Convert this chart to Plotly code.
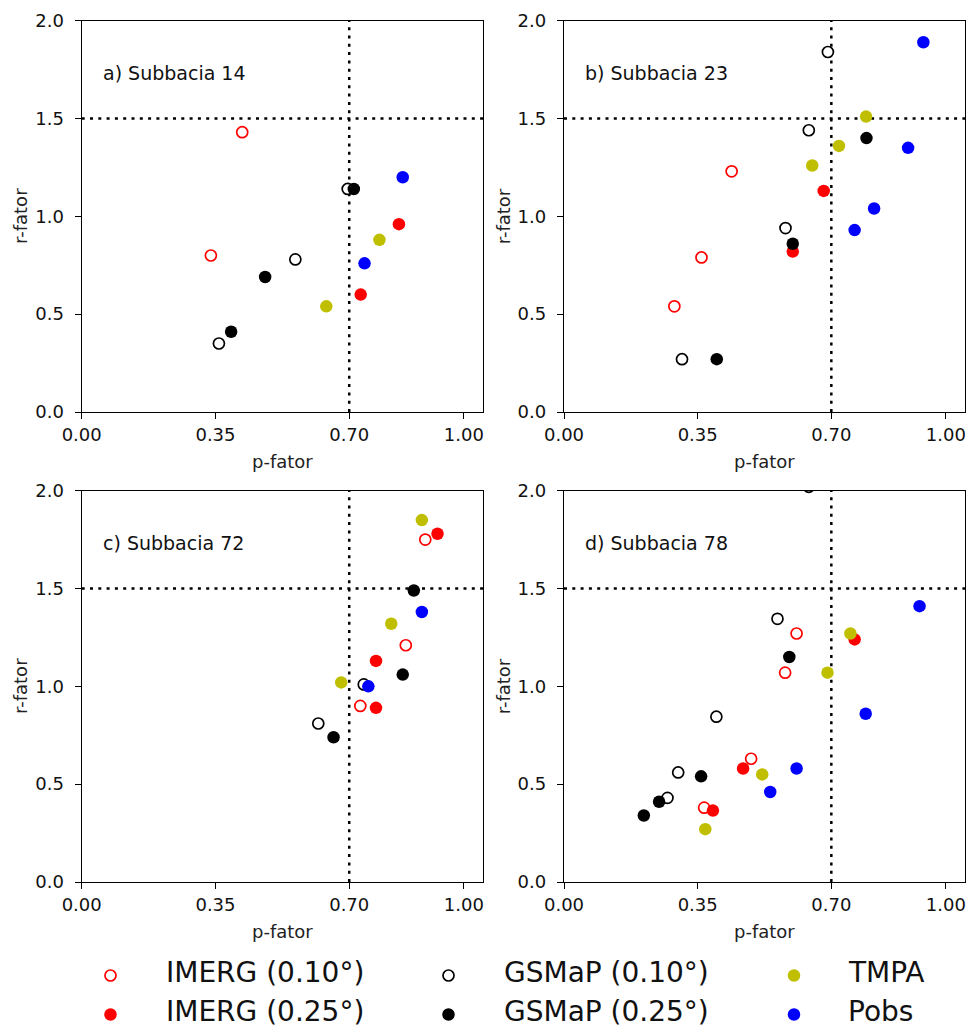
import plotly.graph_objects as go

W, H = 969, 1028
FONT = "DejaVu Sans"

# Axis ticks and the calibration thresholds
p_ticks = [0.0, 0.35, 0.70, 1.0]
p_tick_labels = ["0.00", "0.35", "0.70", "1.00"]
r_ticks = [0.0, 0.5, 1.0, 1.5, 2.0]
r_tick_labels = ["0.0", "0.5", "1.0", "1.5", "2.0"]
p_limit = 0.70
r_limit = 1.5

basins = ["a) Subbacia 14", "b) Subbacia 23", "c) Subbacia 72", "d) Subbacia 78"]

series_names = ["IMERG (0.10°)", "IMERG (0.25°)", "GSMaP (0.10°)",
                "GSMaP (0.25°)", "TMPA", "Pobs"]

# p-factor / r-factor per series, one inner list per sub-basin (14, 23, 72, 78)
imerg010_p = [[0.42, 0.338], [0.439, 0.36, 0.289], [0.899, 0.848, 0.729],
              [0.609, 0.579, 0.49, 0.367]]
imerg010_r = [[1.43, 0.80], [1.23, 0.79, 0.54], [1.75, 1.21, 0.90],
              [1.27, 1.07, 0.63, 0.38]]

imerg025_p = [[0.83, 0.73], [0.68, 0.599], [0.931, 0.77, 0.77],
              [0.761, 0.469, 0.39]]
imerg025_r = [[0.96, 0.60], [1.13, 0.82], [1.78, 1.13, 0.89],
              [1.24, 0.58, 0.365]]

gsmap010_p = [[0.696, 0.559, 0.359], [0.691, 0.641, 0.58, 0.309], [0.738, 0.619],
              [0.641, 0.559, 0.399, 0.299, 0.271]]
gsmap010_r = [[1.14, 0.78, 0.35], [1.84, 1.44, 0.94, 0.27], [1.01, 0.81],
              [2.02, 1.345, 0.845, 0.56, 0.43]]

gsmap025_p = [[0.712, 0.48, 0.391], [0.792, 0.599, 0.40], [0.869, 0.84, 0.659],
              [0.59, 0.359, 0.249, 0.209]]
gsmap025_r = [[1.14, 0.69, 0.41], [1.40, 0.86, 0.27], [1.49, 1.06, 0.74],
              [1.15, 0.54, 0.41, 0.34]]

tmpa_p = [[0.779, 0.64], [0.791, 0.72, 0.65], [0.89, 0.81, 0.679],
          [0.75, 0.69, 0.519, 0.37]]
tmpa_r = [[0.88, 0.54], [1.51, 1.36, 1.26], [1.85, 1.32, 1.02],
          [1.27, 1.07, 0.55, 0.27]]

pobs_p = [[0.84, 0.74], [0.941, 0.901, 0.812, 0.761], [0.89, 0.75],
          [0.931, 0.79, 0.609, 0.54]]
pobs_r = [[1.20, 0.76], [1.89, 1.35, 1.04, 0.93], [1.38, 1.00],
          [1.41, 0.86, 0.58, 0.46]]

series_p = [imerg010_p, imerg025_p, gsmap010_p, gsmap025_p, tmpa_p, pobs_p]
series_r = [imerg010_r, imerg025_r, gsmap010_r, gsmap025_r, tmpa_r, pobs_r]
series_color = ["#ff0000", "#ff0000", "#000000", "#000000", "#bfbf00", "#0000ff"]
series_open = [True, False, True, False, False, False]


def marker_style(color, hollow):
    if hollow:
        return dict(size=11, color="white", symbol="circle",
                    line=dict(color=color, width=1.7))
    return dict(size=12.5, color=color, symbol="circle", line=dict(width=0))


# panel placement in pixels: (left, right, top, bottom)
panels_px = [(81.7, 483.0, 20.7, 412.0), (564.0, 965.0, 20.7, 412.0),
             (81.7, 483.0, 490.7, 882.0), (564.0, 965.0, 490.7, 882.0)]

fig = go.Figure()
layout = dict(template="none", width=W, height=H,
              margin=dict(l=0, r=0, t=0, b=0, pad=0, autoexpand=False),
              paper_bgcolor="white", plot_bgcolor="white", showlegend=False,
              font=dict(family=FONT, color="#111111"))
annotations = []
shapes = []

for k, (L, R, T, B) in enumerate(panels_px):
    idx = "" if k == 0 else str(k + 1)
    xa, ya = "x" + idx, "y" + idx
    axis_common = dict(showgrid=False, zeroline=False, showline=True, linecolor="black",
                       linewidth=1.3, mirror=True, ticks="outside", ticklen=6,
                       tickwidth=1.3, tickcolor="black", automargin=False,
                       tickfont=dict(family=FONT, size=18, color="#111111"))
    layout["xaxis" + idx] = dict(domain=[L / W, R / W], range=[0, 1.05], anchor=ya,
                                 tickvals=p_ticks, ticktext=p_tick_labels,
                                 ticklabelstandoff=0, **axis_common)
    layout["yaxis" + idx] = dict(domain=[1 - B / H, 1 - T / H], range=[0, 2.0], anchor=xa,
                                 tickvals=r_ticks, ticktext=r_tick_labels,
                                 ticklabelstandoff=7, **axis_common)

    for s in range(len(series_names)):
        fig.add_trace(go.Scatter(
            x=series_p[s][k], y=series_r[s][k], xaxis=xa, yaxis=ya,
            mode="markers", name=series_names[s], cliponaxis=True,
            marker=marker_style(series_color[s], series_open[s])))

    # calibration thresholds
    dotted = dict(color="black", width=2.5, dash="3px,5.3px")
    shapes.append(dict(type="line", xref=xa, yref=ya + " domain", x0=p_limit, x1=p_limit,
                       y0=0, y1=1, line=dotted, layer="below"))
    shapes.append(dict(type="line", xref=xa + " domain", yref=ya, x0=0, x1=1,
                       y0=r_limit, y1=r_limit, line=dotted, layer="below"))

    annotations.append(dict(text=basins[k], xref=xa, yref=ya, x=0.05, y=1.735,
                            xanchor="left", yanchor="middle", showarrow=False,
                            font=dict(family=FONT, size=19, color="#111111")))
    annotations.append(dict(text="p-fator", xref="paper", yref="paper",
                            x=(L + R) / 2 / W, y=1 - (B + 49.7) / H,
                            xanchor="center", yanchor="middle", showarrow=False,
                            font=dict(family=FONT, size=18, color="#222222")))
    annotations.append(dict(text="r-fator", xref="paper", yref="paper",
                            x=(L - 61.0) / W, y=1 - (T + B) / 2 / H, textangle=-90,
                            xanchor="center", yanchor="middle", showarrow=False,
                            font=dict(family=FONT, size=18, color="#222222")))

# legend band below the panels, on its own hidden axes (pixel units)
layout["xaxis5"] = dict(domain=[0, 1], range=[0, W], visible=False, anchor="y5",
                        automargin=False)
layout["yaxis5"] = dict(domain=[0, 92 / H], range=[H, H - 92], visible=False, anchor="x5",
                        automargin=False)

legend_marker_x = [110.5, 110.5, 448.5, 448.5, 794.0, 794.0]
legend_marker_y = [975.5, 1014.5, 975.5, 1014.5, 975.5, 1014.5]
legend_text_x = [164.0, 164.0, 502.0, 502.0, 846.0, 846.0]
legend_text_y = [972.5, 1011.5, 972.5, 1011.5, 972.5, 1011.5]

for s in range(len(series_names)):
    fig.add_trace(go.Scatter(
        x=[legend_marker_x[s]], y=[legend_marker_y[s]], xaxis="x5", yaxis="y5",
        mode="markers", cliponaxis=False, hoverinfo="skip",
        marker=marker_style(series_color[s], series_open[s])))
    annotations.append(dict(text=series_names[s], xref="x5", yref="y5",
                            x=legend_text_x[s], y=legend_text_y[s],
                            xanchor="left", yanchor="middle", showarrow=False,
                            font=dict(family=FONT, size=28, color="#111111")))

layout["annotations"] = annotations
layout["shapes"] = shapes
fig.update_layout(**layout)
fig.write_html("out.html")
